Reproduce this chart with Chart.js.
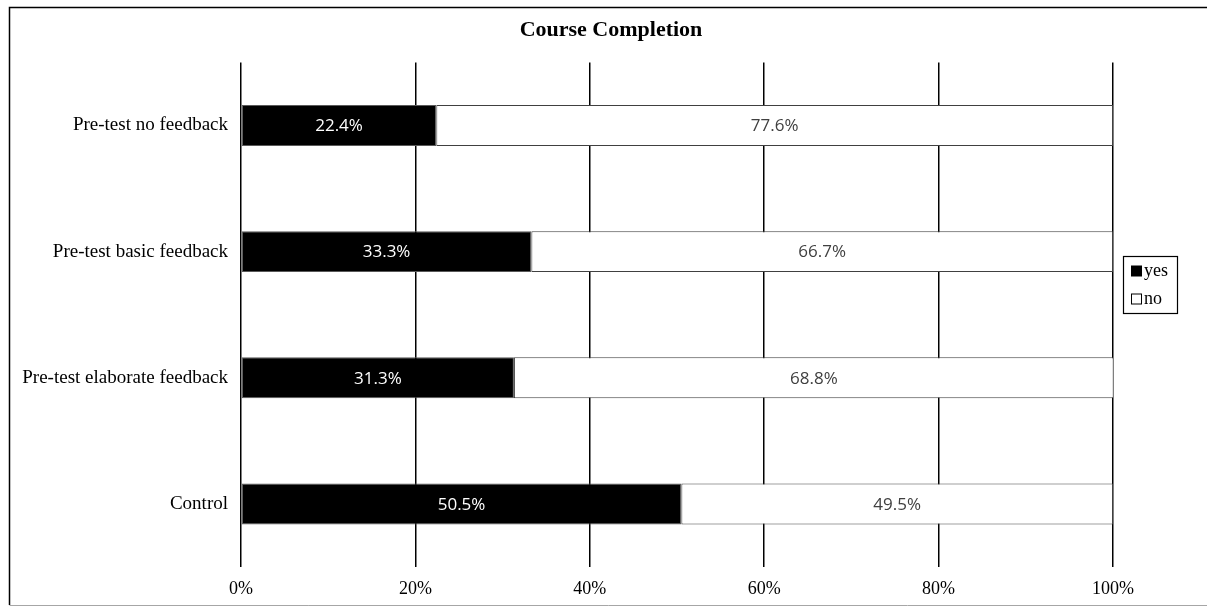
<!DOCTYPE html>
<html>
<head>
<meta charset="utf-8">
<script src="https://cdn.jsdelivr.net/npm/chart.js@4.4.0/dist/chart.umd.min.js"></script>
<style>
  html, body { margin: 0; padding: 0; background: #fff; }
  #wrap { width: 1207px; height: 607px; }
</style>
</head>
<body>
<div id="wrap"><canvas id="completionChart"></canvas></div>
<script>
// Dados do gráfico
const categories = ['Pre-test no feedback', 'Pre-test basic feedback', 'Pre-test elaborate feedback', 'Control'];
const yesValues = [22.4, 33.3, 31.3, 50.5];
const noValues = [77.6, 66.7, 68.8, 49.5];
const tickValues = [0, 20, 40, 60, 80, 100];

const serif = '"Liberation Serif", "Times New Roman", serif';

// Moldura externa do gráfico
const framePlugin = {
    id: 'frame',
    afterLayout(chart) {
        // centraliza o título como no original (um pouco à direita do centro)
        if (chart.titleBlock) {
            chart.titleBlock.left = 15;
            chart.titleBlock.right = chart.width;
        }
    },
    beforeDraw(chart) {
        const ctx = chart.ctx;
        ctx.save();
        ctx.fillStyle = '#fff';
        ctx.fillRect(0, 0, chart.width, chart.height);
        ctx.lineWidth = 1.5;
        ctx.strokeStyle = '#000';
        ctx.beginPath();
        ctx.moveTo(9.5, 605);
        ctx.lineTo(9.5, 7.5);
        ctx.lineTo(chart.width, 7.5);
        ctx.stroke();
        ctx.strokeStyle = '#a6a6a6';
        ctx.lineWidth = 1;
        ctx.beginPath();
        ctx.moveTo(9.5, 605.5);
        ctx.lineTo(chart.width, 605.5);
        ctx.stroke();
        ctx.restore();
    }
};

// Rótulos de valor dentro das barras
const barLabelsPlugin = {
    id: 'barLabels',
    afterDatasetsDraw(chart) {
        const ctx = chart.ctx;
        ctx.save();
        ctx.font = '17px "Open Sans", sans-serif';
        ctx.textAlign = 'center';
        ctx.textBaseline = 'middle';
        chart.data.datasets.forEach((ds, i) => {
            const meta = chart.getDatasetMeta(i);
            meta.data.forEach((bar, j) => {
                const cx = (bar.x + bar.base) / 2;
                ctx.fillStyle = i === 0 ? '#ffffff' : '#404040';
                ctx.fillText(ds.data[j].toFixed(1) + '%', cx, bar.y + 1);
            });
        });
        ctx.restore();
    }
};

// Legenda com caixa, à direita
const boxLegendPlugin = {
    id: 'boxLegend',
    afterDraw(chart) {
        const ctx = chart.ctx;
        const left = 1123.5, top = 256.5, w = 54, h = 57;
        ctx.save();
        ctx.strokeStyle = '#000';
        ctx.lineWidth = 1.2;
        ctx.strokeRect(left, top, w, h);
        ctx.font = '18px ' + serif;
        ctx.textBaseline = 'middle';
        ctx.textAlign = 'left';
        const rows = [271, 299];
        chart.data.datasets.forEach((ds, i) => {
            const y = rows[i];
            ctx.fillStyle = ds.backgroundColor;
            ctx.fillRect(1131.5, y - 5, 10, 10);
            ctx.strokeStyle = '#000';
            ctx.lineWidth = 1;
            ctx.strokeRect(1131.5, y - 5, 10, 10);
            ctx.fillStyle = '#000';
            ctx.fillText(ds.label, 1144, y);
        });
        ctx.restore();
    }
};

const ctx = document.getElementById('completionChart').getContext('2d');
new Chart(ctx, {
    type: 'bar',
    data: {
        labels: categories,
        datasets: [
            {
                label: 'yes',
                data: yesValues,
                backgroundColor: '#000000',
                borderColor: '#595959',
                borderWidth: 1,
                borderSkipped: false,
                barPercentage: 0.325,
                categoryPercentage: 1
            },
            {
                label: 'no',
                data: noValues,
                backgroundColor: '#ffffff',
                borderColor: '#404040',
                borderWidth: 1,
                borderSkipped: false,
                barPercentage: 0.325,
                categoryPercentage: 1
            }
        ]
    },
    options: {
        indexAxis: 'y',
        responsive: true,
        maintainAspectRatio: false,
        animation: false,
        layout: {
            padding: { left: 0, right: 94, top: 0, bottom: 9 }
        },
        plugins: {
            legend: { display: false },
            tooltip: { enabled: false },
            title: {
                display: true,
                text: 'Course Completion',
                color: '#000',
                font: { family: serif, size: 22, weight: 'bold' },
                padding: { top: 17, bottom: 19 }
            }
        },
        scales: {
            x: {
                stacked: true,
                min: 0,
                max: 100,
                afterBuildTicks(scale) {
                    scale.ticks = tickValues.map(v => ({ value: v }));
                },
                afterFit(scale) {
                    scale.height = 31;
                },
                ticks: {
                    color: '#000',
                    padding: 11,
                    font: { family: serif, size: 18 },
                    callback: v => v + '%'
                },
                grid: {
                    color: '#000',
                    lineWidth: 1.5,
                    drawTicks: false
                },
                border: { display: false }
            },
            y: {
                stacked: true,
                afterFit(scale) {
                    scale.width = 241;
                },
                ticks: {
                    color: '#000',
                    padding: 13,
                    font: { family: serif, size: 19 }
                },
                grid: { display: false, drawTicks: false },
                border: { display: false }
            }
        }
    },
    plugins: [framePlugin, barLabelsPlugin, boxLegendPlugin]
});
</script>
</body>
</html>
